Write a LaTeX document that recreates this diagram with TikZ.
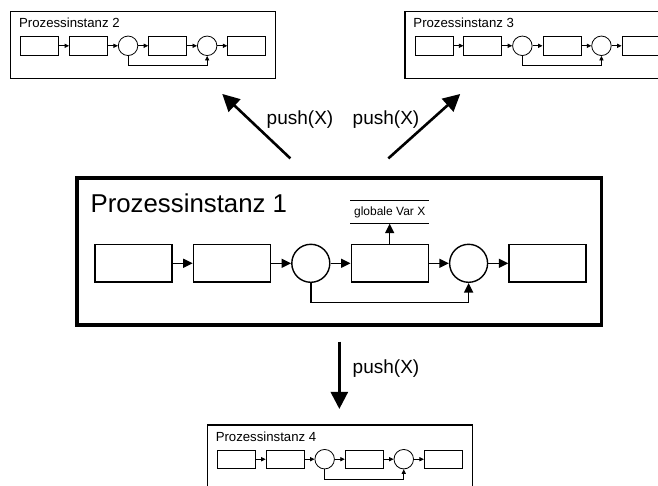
\documentclass[tikz,border=0pt]{standalone}
\usepackage{fontspec}
\setmainfont{Liberation Sans}
\usetikzlibrary{arrows.meta, positioning, calc}

\begin{document}
\begin{tikzpicture}[
    x=1pt, y=-1pt,
    mb/.style={rectangle, draw, line width=1.4pt, minimum width=77pt, minimum height=37pt, inner sep=0pt},
    mc/.style={circle, draw, line width=1.4pt, minimum size=38pt, inner sep=0pt},
    sb/.style={rectangle, draw, line width=0.8pt, minimum width=38pt, minimum height=18.5pt, inner sep=0pt},
    sc/.style={circle, draw, line width=0.8pt, minimum size=19.5pt, inner sep=0pt},
    mframe/.style={rectangle, draw, line width=3.2pt, minimum width=524.7pt, minimum height=147pt, inner sep=0pt},
    sframe/.style={rectangle, draw, line width=1.3pt, minimum width=265pt, minimum height=66.8pt, inner sep=0pt},
    mar/.style={-{Triangle[length=9.5pt, width=9pt]}, line width=1.4pt},
    sar/.style={-{Triangle[length=4.5pt, width=4.2pt]}, line width=0.8pt},
    push/.style={-{Triangle[length=17pt, width=17pt]}, line width=2.6pt},
    lbl/.style={font=\fontsize{19}{22}\selectfont, inner sep=0pt},
]
\useasboundingbox (0,0) rectangle (658,486);
\clip (0,0) rectangle (658,486);

% Prozessinstanz 1
\node[mb] (b1) at (133.5,263.3) {};
\node[mb, right=20pt of b1] (b2) {};
\node[mc, right=20pt of b2] (c1) {};
\node[mb, right=20pt of c1] (b3) {};
\node[mc, right=20pt of b3] (c2) {};
\node[mb, right=20pt of c2] (b4) {};
\node[above=20.5pt of b3, minimum width=79pt, minimum height=22.6pt, inner sep=0pt,
      font=\fontsize{12}{14}\selectfont] (gv) {globale Var X};
\node[mframe] (p1) at (339.35,251.5) {};
\node[anchor=base west, inner sep=0pt, font=\fontsize{25.8}{30}\selectfont] (t1)
      at ($(p1.north west)+(15,36)$) {Prozessinstanz 1};

\draw[mar] (b1) -- (b2);
\draw[mar] (b2) -- (c1);
\draw[mar] (c1) -- (b3);
\draw[mar] (b3) -- (c2);
\draw[mar] (c2) -- (b4);
\draw[mar] (b3) -- (gv);
\draw[mar] (c1.south) -- ++(0,19.4) -| (c2.south);
\draw[line width=1.2pt] (gv.north west) -- (gv.north east) (gv.south west) -- (gv.south east);

% Prozessinstanz 2, 3, 4
\foreach \n/\x/\y in {2/39.7/45.8, 3/434/45.8, 4/236.3/459.2} {
    \node[sb] (s\n-a) at (\x,\y) {};
    \node[sb, right=10pt of s\n-a] (s\n-b) {};
    \node[sc, right=10pt of s\n-b] (s\n-c) {};
    \node[sb, right=10pt of s\n-c] (s\n-d) {};
    \node[sc, right=10pt of s\n-d] (s\n-e) {};
    \node[sb, right=10pt of s\n-e] (s\n-f) {};
    \foreach \u/\v in {a/b, b/c, c/d, d/e, e/f}
        \draw[sar] (s\n-\u) -- (s\n-\v);
    \draw[sar] (s\n-c.south) -- ++(0,9.6) -| (s\n-e.south);
    \node[sframe] (f\n) at ($(s\n-a.west)+(122.8,-0.9)$) {};
    \node[anchor=base west, inner sep=0pt, font=\fontsize{13.2}{15}\selectfont] (t\n)
          at ($(f\n.north west)+(9,17)$) {Prozessinstanz \n};
}

% push arrows
\draw[push] ($(p1.north)+(-49,-18)$) -- ($(f2.south east)+(-54,15)$);
\draw[push] ($(p1.north)+(49,-18)$) -- ($(f3.south west)+(56,15)$);
\draw[push, shorten <=15pt, shorten >=15.3pt] (p1.south) -- (p1.south |- f4.north);
\node[lbl] (l2) at (300,120) {push(X)};
\node[lbl] (l3) at (386,120) {push(X)};
\node[lbl] (l4) at (386,369) {push(X)};
\end{tikzpicture}
\end{document}
